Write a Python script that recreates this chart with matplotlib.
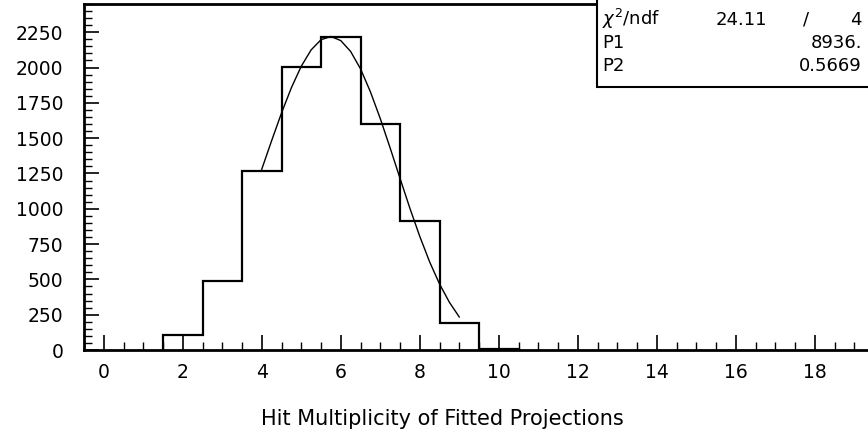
import matplotlib
matplotlib.use("Agg")
import matplotlib.pyplot as plt
from matplotlib.ticker import MultipleLocator

plt.rcParams['font.family'] = ['DejaVu Sans']

# Histogram data (bin centres and contents)
bin_centers = [2, 3, 4, 5, 6, 7, 8, 9, 10]
bin_counts = [107, 486, 1268, 2002, 2216, 1600, 910, 190, 10]

# Fitted curve
fit_x = [4.0, 4.25, 4.5, 4.75, 5.0, 5.25, 5.5, 5.75, 6.0, 6.25, 6.5,
         6.75, 7.0, 7.25, 7.5, 7.75, 8.0, 8.25, 8.5, 8.75, 9.0]
fit_y = [1280, 1482, 1678, 1857, 2009, 2125, 2197, 2220, 2191, 2114, 1991,
         1829, 1639, 1431, 1216, 1004, 805, 624, 468, 338, 234]

x_ticks = [0, 2, 4, 6, 8, 10, 12, 14, 16, 18]
y_ticks = [0, 250, 500, 750, 1000, 1250, 1500, 1750, 2000, 2250]

stats_labels = ["$\\chi^2$/ndf", "P1", "P2"]
stats_values = ["24.11", "8936.", "0.5669"]
ndf_value = "4"

xlabel = "Hit Multiplicity of Fitted Projections"

W, H = 868, 436
fig = plt.figure(figsize=(W / 100, H / 100), dpi=100)
ax = fig.add_axes([84 / W, (H - 350) / H, 790 / W, 346 / H])

# histogram outline
edges = [c - 0.5 for c in bin_centers] + [bin_centers[-1] + 0.5]
xs, ys = [edges[0]], [0]
for i, c in enumerate(bin_counts):
    xs += [edges[i], edges[i + 1]]
    ys += [c, c]
xs.append(edges[-1])
ys.append(0)
ax.plot(xs, ys, color='black', lw=1.6, solid_joinstyle='miter')

ax.plot(fit_x, fit_y, color='black', lw=1.0)

ax.set_xlim(-0.5, 19.5)
ax.set_ylim(0, 2450)
ax.set_xticks(x_ticks)
ax.set_yticks(y_ticks)
ax.xaxis.set_minor_locator(MultipleLocator(0.5))
ax.yaxis.set_minor_locator(MultipleLocator(50))
ax.tick_params(axis='both', which='both', direction='in', color='black',
               top=False, right=False)
ax.tick_params(axis='both', which='major', length=11, width=1.2, labelsize=13.5)
ax.tick_params(axis='both', which='minor', length=5.5, width=1.0)
ax.tick_params(axis='x', which='major', pad=9)
ax.tick_params(axis='y', which='major', pad=15)
for s in ax.spines.values():
    s.set_linewidth(2.0)

fig.text(442 / W, (H - 425) / H, xlabel, ha='center', va='baseline',
         fontsize=15)

# stats box
bx0, by0 = 597 / W, (H - 87) / H
box = plt.Rectangle((bx0, by0), 1 - bx0 + 0.01, 1 - by0 + 0.01,
                    transform=fig.transFigure, facecolor='white',
                    edgecolor='black', lw=1.5, zorder=5)
fig.add_artist(box)
row_y = [25, 48, 71]
for lab, val, ry in zip(stats_labels, stats_values, row_y):
    fig.text(602 / W, (H - ry) / H, lab, ha='left', va='baseline',
             fontsize=13, zorder=6)
ry = row_y[0]
fig.text(767 / W, (H - ry) / H, stats_values[0], ha='right', va='baseline',
         fontsize=13, zorder=6)
fig.text(806 / W, (H - ry) / H, "/", ha='center', va='baseline',
         fontsize=13, zorder=6)
fig.text(862 / W, (H - ry) / H, ndf_value, ha='right', va='baseline',
         fontsize=13, zorder=6)
for val, ry in zip(stats_values[1:], row_y[1:]):
    fig.text(862 / W, (H - ry) / H, val, ha='right', va='baseline',
             fontsize=13, zorder=6)

fig.savefig("out.png", dpi=100)
